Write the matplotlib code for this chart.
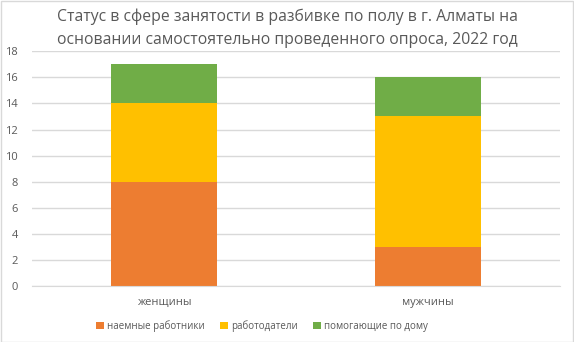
import matplotlib
matplotlib.use("Agg")
import matplotlib.pyplot as plt
from matplotlib.patches import Patch, Rectangle

INK = "#595959"
GRID = "#D9D9D9"

categories = ["женщины", "мужчины"]
series_names = ["наемные работники", "работодатели", "помогающие по дому"]
hired = [8, 3]
employers = [6, 10]
helpers = [3, 3]
colors = ["#ED7D31", "#FFC000", "#70AD47"]
yticks = [0, 2, 4, 6, 8, 10, 12, 14, 16, 18]

plt.rcParams["font.family"] = ["Open Sans", "DejaVu Sans"]

W, H = 574, 342
fig = plt.figure(figsize=(W / 100, H / 100), dpi=100)
fig.patches.append(Rectangle((0.5 / W, 0.5 / H), 1 - 1.5 / W, 1 - 1.5 / H,
                             transform=fig.transFigure, fill=False,
                             edgecolor=GRID, linewidth=1.0))

ax = fig.add_axes([32 / W, (H - 286) / H, (560 - 32) / W, (286 - 51.3) / H])

x = list(range(len(categories)))
bottom = [0] * len(categories)
for name, vals, col in zip(series_names, [hired, employers, helpers], colors):
    ax.bar(x, vals, width=0.4, bottom=bottom, color=col, label=name, zorder=2)
    bottom = [b + v for b, v in zip(bottom, vals)]

ax.set_xlim(-0.5, 1.5)
ax.set_ylim(0, 18)
ax.set_yticks(yticks)
ax.set_xticks(x)
ax.set_xticklabels(categories)
ax.grid(axis="y", color=GRID, linewidth=1.0, zorder=0)
for side in ("top", "right", "left"):
    ax.spines[side].set_visible(False)
ax.spines["bottom"].set_color(GRID)
ax.tick_params(axis="both", length=0, colors=INK, labelsize=8)
ax.tick_params(axis="y", pad=10)
ax.tick_params(axis="x", pad=8)

fig.text(0.5, 1 - 17 / H, "Статус в сфере занятости в разбивке по полу в г. Алматы на",
         ha="center", va="center", fontsize=11.3, color=INK)
fig.text(0.5, 1 - 40 / H, "основании самостоятельно проведенного опроса, 2022 год",
         ha="center", va="center", fontsize=11.3, color=INK)

handles = [Patch(facecolor=c, edgecolor="none") for c in colors]
fig.legend(handles, series_names, loc="center", bbox_to_anchor=(262 / W, 1 - 326 / H),
           ncol=3, frameon=False, fontsize=7, labelcolor=INK,
           handlelength=0.8, handleheight=0.8, handletextpad=0.3, columnspacing=1.6)

fig.savefig("out.png", dpi=100)
